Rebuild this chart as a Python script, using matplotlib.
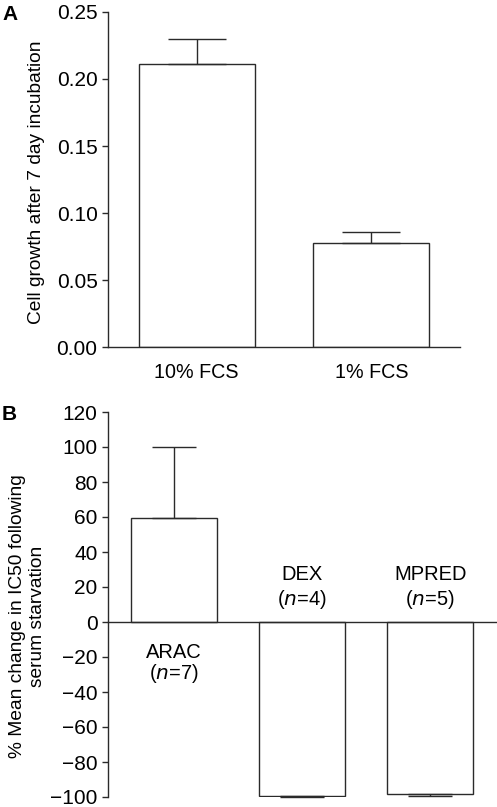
import matplotlib
matplotlib.use("Agg")
import matplotlib.pyplot as plt

plt.rcParams['font.family'] = ['Liberation Sans', 'DejaVu Sans']

# Panel A data
a_categories = ["10% FCS", "1% FCS"]
a_values = [0.211, 0.078]
a_errors = [0.019, 0.008]
a_ylabel = "Cell growth after 7 day incubation"
a_yticks = [0.00, 0.05, 0.10, 0.15, 0.20, 0.25]

# Panel B data
b_drugs = ["ARAC", "DEX", "MPRED"]
b_n = [7, 4, 5]
b_values = [59.5, -99.7, -98.3]
b_errors = [40.5, 0.2, 1.0]
b_ylabel = "% Mean change in IC50 following\nserum starvation"
b_yticks = [-100, -80, -60, -40, -20, 0, 20, 40, 60, 80, 100, 120]

W, H = 497, 807
fig = plt.figure(figsize=(W / 100, H / 100), dpi=100)

lc = '#2a2a2a'
lw = 1.0
tfs = 15
lfs = 13.8
afs = 14.5

def px_ax(l, t, r, b):
    return fig.add_axes([l / W, 1 - b / H, (r - l) / W, (b - t) / H])

# ---------- Panel A ----------
axA = px_ax(108, 11.7, 460, 347.5)
xa = list(range(len(a_categories)))
axA.bar(xa, a_values, width=0.663, color='white', edgecolor=lc, linewidth=lw, zorder=2)
axA.errorbar(xa, a_values, yerr=[[0] * len(a_errors), a_errors], fmt='none',
             ecolor=lc, elinewidth=lw, capsize=21, capthick=lw, zorder=3)
axA.set_xlim(-0.508, 1.508)
axA.set_ylim(0, 0.25)
axA.set_yticks(a_yticks)
axA.set_yticklabels([f"{v:.2f}" for v in a_yticks])
axA.set_xticks(xa)
axA.set_xticklabels(a_categories)
axA.tick_params(axis='x', length=0, pad=11, labelsize=14.2)
axA.tick_params(axis='y', length=4.5, width=lw, color=lc, pad=3, labelsize=tfs)
for s in ['top', 'right']:
    axA.spines[s].set_visible(False)
for s in ['left', 'bottom']:
    axA.spines[s].set_color(lc)
    axA.spines[s].set_linewidth(lw)
fig.text(37 / W, 1 - 182.5 / H, a_ylabel, fontsize=lfs, rotation=90,
         ha='center', va='center')
fig.text(2 / W, 1 - 15 / H, "A", fontsize=15, fontweight='bold', va='center', ha='left')

# ---------- Panel B ----------
axB = px_ax(108, 412, 497, 797)
xb = list(range(len(b_drugs)))
axB.bar(xb, b_values, width=0.67, color='white', edgecolor=lc, linewidth=lw, zorder=2)
lower = [e if v < 0 else 0 for v, e in zip(b_values, b_errors)]
upper = [e if v >= 0 else 0 for v, e in zip(b_values, b_errors)]
eb = axB.errorbar(xb, b_values, yerr=[lower, upper], fmt='none', ecolor=lc,
                  elinewidth=lw, capsize=16, capthick=lw, zorder=3)
for artist in eb.get_children():
    artist.set_clip_on(False)
axB.set_xlim(-0.515, 2.52)
axB.set_ylim(-100, 120)
axB.set_yticks(b_yticks)
axB.set_yticklabels([str(v).replace('-', '\u2212') for v in b_yticks])
axB.set_xticks([])
axB.tick_params(axis='y', length=4.5, width=lw, color=lc, pad=3, labelsize=tfs)
for s in ['top', 'right']:
    axB.spines[s].set_visible(False)
axB.spines['bottom'].set_position(('data', 0))
for s in ['left', 'bottom']:
    axB.spines[s].set_color(lc)
    axB.spines[s].set_linewidth(lw)
fig.text(27.5 / W, 1 - 616.5 / H, b_ylabel, fontsize=lfs, rotation=90,
         ha='center', va='center', linespacing=1.25, multialignment='center')
fig.text(2 / W, 1 - 414 / H, "B", fontsize=15, fontweight='bold', va='center', ha='left')

for i, (d, n, v) in enumerate(zip(b_drugs, b_n, b_values)):
    if v >= 0:
        y1, y2 = -17.5, -29.5
    else:
        y1, y2 = 27.4, 13
    axB.text(i, y1, d, ha='center', va='center', fontsize=afs)
    axB.text(i, y2, "(" + r"$\it{n}$" + f"={n})", ha='center', va='center', fontsize=afs)

fig.savefig("out.png", dpi=100)
